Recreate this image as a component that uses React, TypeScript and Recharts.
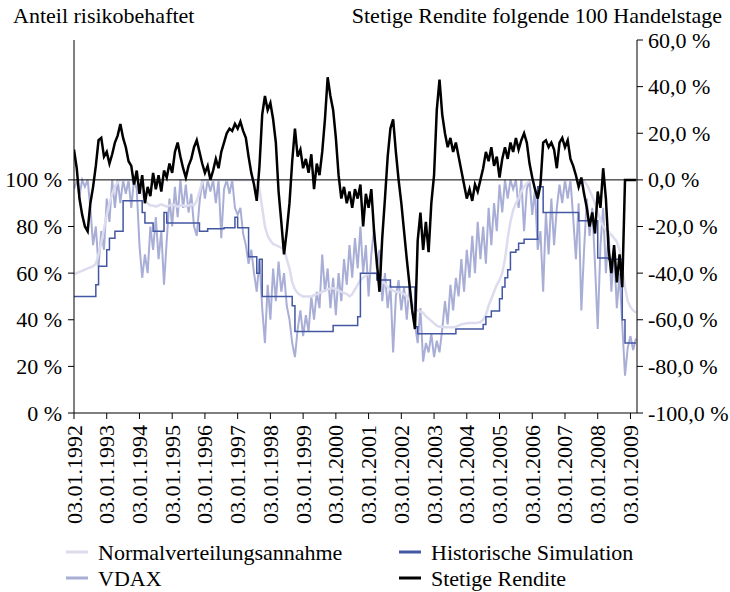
import { LineChart, Line, XAxis, YAxis, ReferenceLine } from 'recharts'

const START_YEAR = 1992

// monthly readings, Jan 1992 .. Mar 2009
const nvValues = [
  59.5, 60, 60.5, 61, 61.5, 62, 62.5, 63, 64, 68, 73, 79,
  85, 90, 94, 97, 99, 100, 100, 100, 100, 100, 100, 100,
  98, 94, 91, 90, 89, 89, 88.5, 89, 89.5, 89, 88.5, 89,
  89.5, 89, 88.5, 89, 89, 88.5, 89, 89.5, 89, 91, 95, 99,
  100, 100, 100, 100, 100, 100, 100, 100, 100, 100, 100, 100,
  100, 100, 100, 100, 100, 100, 100, 100, 96, 88, 80, 76,
  74, 72.5, 72, 71.5, 71, 70, 66, 62, 56, 53, 51.5, 50.5,
  50, 50, 50, 50, 50.5, 51, 51.5, 52, 52.5, 53, 53.5, 53.5,
  53, 52.5, 52, 51.5, 51, 50, 51, 53, 55, 57, 58, 59,
  60, 60, 60, 60, 59, 57, 55.5, 54, 53, 52.5, 52, 52,
  51.5, 51, 50, 48.5, 47, 45, 44, 43.5, 43, 41.5, 40.5, 39.5,
  38.5, 37.5, 37, 37, 36.8, 36.8, 36.8, 36.8, 37, 37.5, 38, 38.3,
  38.5, 38.6, 38.6, 38.6, 38.7, 39, 40, 42, 46, 49, 52, 55,
  57, 60, 66, 75, 82, 87, 90, 92, 95, 97, 98.5, 99.5,
  100, 100, 100, 100, 100, 100, 100, 100, 100, 100, 100, 100,
  100, 100, 100, 100, 100, 100, 100, 99.5, 98, 95.5, 93, 90,
  86, 83, 80, 78.5, 77.5, 76.5, 75, 73.5, 70, 62, 54, 48,
  45.5, 44, 43,
]

const vdaxValues = [
  96, 100, 93, 100, 97, 100, 88, 72, 80, 63, 78, 70,
  92, 82, 100, 88, 100, 90, 100, 94, 100, 88, 100, 96,
  72, 58, 68, 60, 80, 70, 84, 66, 78, 55, 74, 92,
  80, 97, 84, 100, 88, 98, 86, 94, 80, 76, 90, 100,
  92, 100, 95, 100, 90, 100, 75, 96, 100, 94, 100, 88,
  85, 88, 77, 72, 64, 70, 60, 52, 66, 45, 30, 55,
  40, 62, 48, 65, 52, 60, 46, 40, 30, 24, 36, 44,
  33, 42, 35, 50, 40, 52, 45, 68, 52, 62, 45, 58,
  42, 60, 48, 66, 55, 72, 58, 75, 62, 80, 60, 72,
  50, 68, 79, 62, 70, 48, 60, 45, 55, 26, 50, 57,
  44, 54, 40, 55, 43, 38, 30, 45, 22, 30, 26, 34,
  24, 31, 26, 36, 48, 38, 55, 44, 58, 50, 66, 52,
  70, 58, 76, 60, 82, 66, 80, 64, 88, 72, 90, 78,
  98, 86, 100, 92, 100, 96, 100, 88, 100, 78, 96, 100,
  85, 96, 70, 78, 52, 86, 68, 92, 72, 88, 98, 90,
  100, 92, 100, 84, 66, 90, 44, 70, 92, 76, 88, 64,
  36, 72, 88, 60, 78, 52, 70, 45, 60, 38, 16, 28,
  33, 27, 32,
]

const hsValues = [
  50, 50, 50, 50, 50, 50, 50, 50, 55, 63, 63, 63,
  70, 75, 75, 78, 78, 78, 91, 91, 91, 91, 91, 91,
  91, 86, 81.5, 81.5, 81.5, 78, 78, 78, 78, 86, 81.5, 81.5,
  81.5, 81.5, 81.5, 81.5, 81.5, 81.5, 81.5, 81.5, 81.5, 81.5, 78, 78,
  78, 79, 79, 79, 79, 79, 79, 79.5, 79.5, 79.5, 79.5, 84,
  79.5, 79.5, 79.5, 79.5, 67, 67, 67, 60, 66, 50, 50, 50,
  50, 50, 50, 50, 50, 50, 50, 50, 46, 35, 35, 35,
  35, 35, 35, 35, 35, 35, 35, 35, 35, 35, 35, 37.5,
  37.5, 37.5, 37.5, 37.5, 37.5, 37.5, 37.5, 37.5, 41.3, 60, 60, 60,
  60, 60, 60, 57, 57, 57, 57, 57, 54, 54, 54, 54,
  54, 54, 54, 54, 54, 37, 34, 34, 34, 34, 34, 34,
  34, 34, 34, 34, 34, 34, 34, 34, 36, 36, 36, 36,
  36, 36, 36, 36, 36, 36, 38, 41.3, 41.3, 43.8, 43.8, 43.8,
  49, 54, 58, 61.4, 69, 69, 70, 72.8, 72.8, 74.5, 74.5, 74.5,
  74.5, 74.5, 97, 97, 86, 86, 86, 86, 86, 86, 86, 86,
  86, 86, 86, 86, 86, 82.5, 82.5, 82.5, 82.5, 82.5, 82.5, 82.5,
  66.5, 66.5, 66.5, 66.5, 66, 66, 66, 66, 66, 40, 30, 30,
  30, 30, 30,
]

const srValues = [
  13, 5, -8, -15, -20, -22, -10, -3, 6, 17, 18, 10,
  12, 7, 11, 16, 19, 24, 18, 14, 8, 6, -2, 4,
  -6, 2, -10, -3, -7, 3, -4, 2, -5, 4, 1, 7,
  3, 12, 16, 10, 5, 1, 6, 9, 14, 17, 12, 7,
  3, 6, 0, 4, 9, 5, 12, 16, 20, 22, 21, 24,
  22, 25, 21, 18, 10, 3, -2, -9, 6, 28, 36, 30,
  33, 26, 16, -5, -18, -32, -22, -10, 8, 22, 10, 13,
  5, 9, 3, 11, -4, 7, 2, 12, 26, 44, 36, 30,
  18, 2, -8, -3, -10, -5, -12, -4, -8, -2, -20, -6,
  -12, -4, -22, -35, -48, -25, -8, 10, 22, 26, 12, 0,
  -10, -22, -34, -45, -56, -64, -26, -14, -30, -18, -31, -10,
  2, 30, 43, 28, 20, 14, 18, 12, 16, 10, 4, -2,
  -8, -4, -9, -2, -5, 0, 5, 12, 8, 14, 6, 10,
  1, 9, 14, 9, 16, 12, 18, 13, 17, 20, 16, 7,
  1, -4, -8, -2, 16, 17, 14, 16, 13, 5, 16, 18,
  14, 17, 9, 6, 2, -3, 1, -6, -12, -20, -14, -23,
  -5, -12, 5, -8, -30, -40, -28, -44, -32, -46, 0, 0,
  0, 0, 0,
]

const yearTicks = [1992, 1993, 1994, 1995, 1996, 1997, 1998, 1999, 2000, 2001, 2002, 2003, 2004, 2005, 2006, 2007, 2008, 2009]
const leftTicks = [0, 20, 40, 60, 80, 100]
const rightTicks = [-100, -80, -60, -40, -20, 0, 20, 40, 60]

const data = nvValues.map((nv, i) => ({
  t: START_YEAR + i / 12,
  nv,
  vdax: vdaxValues[i],
  hs: hsValues[i],
  sr: srValues[i],
}))

const FONT = '"Liberation Serif", "Times New Roman", serif'
const C_NV = '#dcdcee'
const C_VDAX = '#a9aed6'
const C_HS = '#4357a3'
const C_SR = '#000000'

const textStyle = { fontFamily: FONT, fontSize: 22, fill: '#000' }

function YearTick(props: any) {
  const { x, y, payload } = props
  return (
    <g transform={`translate(${x},${y})`}>
      <text transform="rotate(-90)" x={-4} y={0} textAnchor="end" dominantBaseline="central" style={textStyle}>
        {`03.01.${payload.value}`}
      </text>
    </g>
  )
}

function LeftTick(props: any) {
  const { x, y, payload } = props
  return (
    <text x={x} y={y} textAnchor="end" dominantBaseline="central" style={textStyle}>
      {`${payload.value} %`}
    </text>
  )
}

function RightTick(props: any) {
  const { x, y, payload } = props
  return (
    <text x={x} y={y} textAnchor="start" dominantBaseline="central" style={textStyle}>
      {`${Number(payload.value).toFixed(1).replace('.', ',')} %`}
    </text>
  )
}

const legendRows = [
  [{ name: 'Normalverteilungsannahme', color: C_NV }, { name: 'Historische Simulation', color: C_HS }],
  [{ name: 'VDAX', color: C_VDAX }, { name: 'Stetige Rendite', color: C_SR }],
]

export default function App() {
  return (
    <div style={{ position: 'absolute', left: 0, top: 0, width: 730, height: 592, background: '#fff', fontFamily: FONT }}>
      <LineChart width={730} height={592} data={data} margin={{ top: 40, right: 13, left: 14, bottom: 59 }}>
        <XAxis
          dataKey="t"
          type="number"
          domain={[1992, 2009.2]}
          ticks={yearTicks}
          allowDataOverflow
          interval={0}
          height={120}
          tick={<YearTick />}
          tickSize={6}
          axisLine={{ stroke: '#000' }}
          tickLine={{ stroke: '#000' }}
        />
        <YAxis
          yAxisId="left"
          domain={[0, 160]}
          ticks={leftTicks}
          interval={0}
          width={60}
          tickSize={6}
          tickMargin={6}
          tick={<LeftTick />}
          axisLine={{ stroke: '#000' }}
          tickLine={{ stroke: '#000' }}
        />
        <YAxis
          yAxisId="right"
          orientation="right"
          domain={[-100, 60]}
          ticks={rightTicks}
          interval={0}
          width={80}
          tickSize={6}
          tickMargin={5}
          tick={<RightTick />}
          axisLine={{ stroke: '#000' }}
          tickLine={{ stroke: '#000' }}
        />
        <Line yAxisId="left" type="linear" dataKey="vdax" stroke={C_VDAX} strokeWidth={2} dot={false} isAnimationActive={false} />
        <Line yAxisId="left" type="linear" dataKey="nv" stroke={C_NV} strokeWidth={2.5} dot={false} isAnimationActive={false} />
        <Line yAxisId="left" type="stepAfter" dataKey="hs" stroke={C_HS} strokeWidth={1.5} dot={false} isAnimationActive={false} />
        <ReferenceLine yAxisId="right" y={0} stroke="#000" strokeWidth={1} />
        <Line yAxisId="right" type="linear" dataKey="sr" stroke={C_SR} strokeWidth={2.5} dot={false} isAnimationActive={false} />
      </LineChart>
      <svg width={730} height={592} style={{ position: 'absolute', left: 0, top: 0, pointerEvents: 'none' }}>
        <text x={13} y={23} style={textStyle}>Anteil risikobehaftet</text>
        <text x={722} y={23} textAnchor="end" style={textStyle}>Stetige Rendite folgende 100 Handelstage</text>
        {legendRows.map((row, r) =>
          row.map((item, c) => {
            const lx = c === 0 ? 66 : 399
            const ly = 552 + r * 26
            return (
              <g key={item.name}>
                <line x1={lx} x2={lx + 22} y1={ly} y2={ly} stroke={item.color} strokeWidth={3} />
                <text x={lx + 32} y={ly} dominantBaseline="central" style={textStyle}>{item.name}</text>
              </g>
            )
          })
        )}
      </svg>
    </div>
  )
}
